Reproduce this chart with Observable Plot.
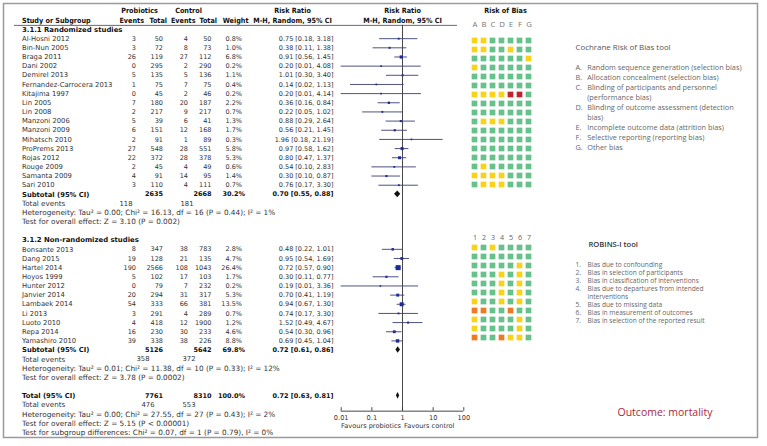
<!DOCTYPE html>
<html><head><meta charset="utf-8">
<script src="https://cdn.jsdelivr.net/npm/d3@7"></script>
<script src="https://cdn.jsdelivr.net/npm/@observablehq/plot@0.6"></script>
<style>
body{margin:0;background:#fff;}
#chart{position:relative;width:767px;height:446px;overflow:hidden;}
#chart svg{position:absolute;left:0;top:0;background:transparent !important;}
</style></head><body><div id="chart"></div>
<script>
// ---------------- DATA ----------------
const randStudy = ["Al-Hosni 2012","Bin-Nun 2005","Braga 2011","Dani 2002","Demirel 2013","Fernandez-Carrocera 2013","Kitajima 1997","Lin 2005","Lin 2008","Manzoni 2006","Manzoni 2009","Mihatsch 2010","ProPrems 2013","Rojas 2012","Rouge 2009","Samanta 2009","Sari 2010"];
const randProbEv  = [3,3,26,0,5,1,0,7,2,5,6,2,27,22,2,4,3];
const randProbTot = [50,72,119,295,135,75,45,180,217,39,151,91,548,372,45,91,110];
const randCtrlEv  = [4,8,27,2,5,7,2,20,9,6,12,1,28,28,4,14,4];
const randCtrlTot = [50,73,112,290,136,75,46,187,217,41,168,89,551,378,49,95,111];
const randWeight  = [0.8,1.0,6.8,0.2,1.1,0.4,0.2,2.2,0.7,1.3,1.7,0.3,5.8,5.3,0.6,1.4,0.7];
const randRR = [0.75,0.38,0.91,0.20,1.01,0.14,0.20,0.36,0.22,0.88,0.56,1.96,0.97,0.80,0.54,0.30,0.76];
const randLo = [0.18,0.11,0.56,0.01,0.30,0.02,0.01,0.16,0.05,0.29,0.21,0.18,0.58,0.47,0.10,0.10,0.17];
const randHi = [3.18,1.38,1.45,4.08,3.40,1.13,4.14,0.84,1.02,2.64,1.45,21.19,1.62,1.37,2.83,0.87,3.30];
// Cochrane risk of bias domains A-G (G = low, Y = unclear, R = high)
const randBias = ["YYGGGGG","YYGGYGG","GGGGGGY","YGGGGGG","GGGGGGG","GGGGGGG","YYYYRRG","GGGGGGG","GGGGGGG","GYYYGGG","GGGGGGG","GGGGGGG","GGGGGGG","GGGGGGG","GYGGGGG","YYYYGGG","GYYYGGG"];

const nonrStudy = ["Bonsante 2013","Dang 2015","Hartel 2014","Hoyos 1999","Hunter 2012","Janvier 2014","Lambaek 2014","Li 2013","Luoto 2010","Repa 2014","Yamashiro 2010"];
const nonrProbEv  = [8,19,190,5,0,20,54,3,4,16,39];
const nonrProbTot = [347,128,2566,102,79,294,333,291,418,230,338];
const nonrCtrlEv  = [38,21,108,17,7,31,66,4,12,30,38];
const nonrCtrlTot = [783,135,1043,103,232,317,381,289,1900,233,226];
const nonrWeight  = [2.8,4.7,26.4,1.7,0.2,5.3,13.5,0.7,1.2,4.6,8.8];
const nonrRR = [0.48,0.95,0.72,0.30,0.19,0.70,0.94,0.74,1.52,0.54,0.69];
const nonrLo = [0.22,0.54,0.57,0.11,0.01,0.41,0.67,0.17,0.49,0.30,0.45];
const nonrHi = [1.01,1.69,0.90,0.77,3.36,1.19,1.30,3.30,4.67,0.96,1.04];
// ROBINS-I domains 1-7 (G = low, Y = moderate, O = serious)
const nonrBias = ["YGYGGGG","GGGGGGG","GGGGGYG","GGGYGYG","GGGYGYG","GGGYGYG","YGGYGYG","OOGGOGG","YGGGGYG","YGGGGYG","OGGOYYG"];

const groupTitles = ["3.1.1 Randomized studies","3.1.2 Non-randomized studies"];
const summaryLabels = ["Subtotal (95% CI)","Subtotal (95% CI)","Total (95% CI)"];
const summaryProbTot = [2635,5126,7761];
const summaryCtrlTot = [2668,5642,8310];
const summaryWeight = [30.2,69.8,100.0];
const summaryRR = [0.70,0.72,0.72];
const summaryLo = [0.55,0.61,0.63];
const summaryHi = [0.88,0.86,0.81];
const totalEventsProb = [118,358,476];
const totalEventsCtrl = [181,372,553];
const heterogeneity = [
  "Heterogeneity: Tau\u00b2 = 0.00; Chi\u00b2 = 16.13, df = 16 (P = 0.44); I\u00b2 = 1%",
  "Heterogeneity: Tau\u00b2 = 0.01; Chi\u00b2 = 11.38, df = 10 (P = 0.33); I\u00b2 = 12%",
  "Heterogeneity: Tau\u00b2 = 0.00; Chi\u00b2 = 27.55, df = 27 (P = 0.43); I\u00b2 = 2%"];
const overallEffect = [
  "Test for overall effect: Z = 3.10 (P = 0.002)",
  "Test for overall effect: Z = 3.78 (P = 0.0002)",
  "Test for overall effect: Z = 5.15 (P < 0.00001)"];
const subgroupTest = "Test for subgroup differences: Chi\u00b2 = 0.07, df = 1 (P = 0.79), I\u00b2 = 0%";

const axisTicks = [0.01,0.1,1,10,100];
const axisTickLabels = ["0.01","0.1","1","10","100"];
const favoursLabels = ["Favours probiotics","Favours control"];

const cochraneDomains = ["A","B","C","D","E","F","G"];
const robinsDomains = ["1","2","3","4","5","6","7"];
const cochraneTitle = "Cochrane Risk of Bias tool";
const cochraneKeys = ["A.","B.","C.","","D.","","E.","F.","G."];
const cochraneItems = ["Random sequence generation (selection bias)","Allocation concealment (selection bias)","Blinding of participants and personnel","(performance bias)","Blinding of outcome assessment (detection","bias)","Incomplete outcome data (attrition bias)","Selective reporting (reporting bias)","Other bias"];
const robinsTitle = "ROBINS-I tool";
const robinsKeys = ["1.","2.","3.","4.","","5.","6.","7."];
const robinsItems = ["Bias due to confounding","Bias in selection of participants","Bias in classification of interventions","Bias due to departures from intended","interventions","Bias due to missing data","Bias in measurement of outcomes","Bias in selection of the reported result"];
const outcomeLabel = "Outcome: mortality";
const biasLevels = ["G","Y","R","O"];

// ---------------- LAYOUT ----------------
const W = 767, H = 446;
const rowScale = {domain: [0, 44], range: [29, 432], axis: null};
const groupRows = [0, 23];
const summaryRows = [18, 35, 40];
const totEvRows = [19, 36, 41];
const hetRows = [20, 37, 42];
const effRows = [21, 38, 43];
const subgroupRow = 44;
const axisRow = 41.67;
const col = {name: 21.5, pe: 135.5, pt: 162.5, ce: 187.5, ct: 211, w: 241.5, rr: 333};
const totEvX = [[132, 193], [149, 195], [154, 195]];

const mk = (name, pe, pt, ce, ct, w, rr, lo, hi, bias, row0) =>
  name.map((s, i) => ({name: s, pe: pe[i], pt: pt[i], ce: ce[i], ct: ct[i], w: w[i], rr: rr[i], lo: lo[i], hi: hi[i], bias: bias[i], row: row0 + i}));
const studies = mk(randStudy, randProbEv, randProbTot, randCtrlEv, randCtrlTot, randWeight, randRR, randLo, randHi, randBias, 1)
  .concat(mk(nonrStudy, nonrProbEv, nonrProbTot, nonrCtrlEv, nonrCtrlTot, nonrWeight, nonrRR, nonrLo, nonrHi, nonrBias, 24));
const summaries = summaryLabels.map((l, i) => ({label: l, pt: summaryProbTot[i], ct: summaryCtrlTot[i], w: summaryWeight[i], rr: summaryRR[i], lo: summaryLo[i], hi: summaryHi[i], row: summaryRows[i]}));
const totEv = totalEventsProb.map((p, i) => ({p, c: totalEventsCtrl[i], row: totEvRows[i], xp: totEvX[i][0], xc: totEvX[i][1]}));
const rrText = d => `${d.rr.toFixed(2)} [${d.lo.toFixed(2)}, ${d.hi.toFixed(2)}]`;

const bodyFont = "DejaVu Sans, Verdana, sans-serif";
const headFont = "'Liberation Sans Narrow', 'DejaVu Sans Condensed', 'Liberation Sans', sans-serif";
const sideFont = "'Open Sans', Lato, sans-serif";
const ink = "#333";
const T = (data, o) => Plot.text(data, {fontFamily: bodyFont, fontSize: 6.5, fill: ink, stroke: null, lineAnchor: "middle", ...o});
const Hd = (data, o) => Plot.text(data, {fontFamily: headFont, fontSize: 7.2, fontWeight: "bold", fill: "#111", lineAnchor: "middle", ...o});

const chart = document.getElementById("chart");

// ---------- table ----------
const table = Plot.plot({
  width: W, height: H, margin: 0,
  x: {type: "linear", domain: [0, W], range: [0, W], axis: null},
  y: rowScale,
  style: {background: "transparent"},
  marks: [
    Plot.frame({stroke: "#9a9a9a", strokeWidth: 1.5, insetLeft: 3, insetTop: 3, insetRight: 10, insetBottom: 9}),
    // headers
    Hd(["Probiotics", "Control"], {x: [139, 188], y: -2}),
    Hd(["Study or Subgroup"], {x: col.name, y: -1, textAnchor: "start"}),
    Hd(["Events", "Total", "Events", "Total", "Weight"], {x: [143.5, 166.5, 195, 216.5, 248], y: -1, textAnchor: "end"}),
    Hd(["Risk Ratio", "Risk Ratio"], {x: [292, 402], y: -2}),
    Hd(["M-H, Random, 95% CI", "M-H, Random, 95% CI"], {x: [292, 402], y: -1}),
    Hd(["Risk of Bias"], {x: 505, y: -2}),
    Plot.ruleY([-0.45], {x1: 14, x2: 457, stroke: "#444", strokeWidth: 0.8}),
    // group titles
    T(groupTitles, {x: col.name, y: (d, i) => groupRows[i], textAnchor: "start", fontWeight: "bold", fill: "#111", fontSize: 6.9}),
    // study rows
    T(studies, {x: col.name, y: "row", text: "name", textAnchor: "start", fontSize: 6.8}),
    T(studies, {x: col.pe, y: "row", text: d => String(d.pe), textAnchor: "end"}),
    T(studies, {x: col.pt, y: "row", text: d => String(d.pt), textAnchor: "end"}),
    T(studies, {x: col.ce, y: "row", text: d => String(d.ce), textAnchor: "end"}),
    T(studies, {x: col.ct, y: "row", text: d => String(d.ct), textAnchor: "end"}),
    T(studies, {x: col.w, y: "row", text: d => d.w.toFixed(1) + "%", textAnchor: "end"}),
    T(studies, {x: col.rr, y: "row", text: rrText, textAnchor: "end"}),
    // summaries
    T(summaries, {x: col.name, y: "row", text: "label", textAnchor: "start", fontWeight: "bold", fill: "#111", fontSize: 6.8}),
    T(summaries, {x: col.pt, y: "row", text: d => String(d.pt), textAnchor: "end", fontWeight: "bold", fill: "#111"}),
    T(summaries, {x: col.ct, y: "row", text: d => String(d.ct), textAnchor: "end", fontWeight: "bold", fill: "#111"}),
    T(summaries, {x: col.w + 3, y: "row", text: d => d.w.toFixed(1) + "%", textAnchor: "end", fontWeight: "bold", fill: "#111"}),
    T(summaries, {x: col.rr, y: "row", text: rrText, textAnchor: "end", fontWeight: "bold", fill: "#111"}),
    // total events & tests
    T(totEv, {x: col.name, y: "row", text: () => "Total events", textAnchor: "start", fontSize: 7.2}),
    T(totEv, {x: "xp", y: "row", text: d => String(d.p), textAnchor: "end", fontSize: 6.8}),
    T(totEv, {x: "xc", y: "row", text: d => String(d.c), textAnchor: "end", fontSize: 6.8}),
    T(heterogeneity, {x: col.name, y: (d, i) => hetRows[i], textAnchor: "start", fontSize: 7.3}),
    T(overallEffect, {x: col.name, y: (d, i) => effRows[i], textAnchor: "start", fontSize: 7.3}),
    T([subgroupTest], {x: col.name, y: subgroupRow, textAnchor: "start", fontSize: 7.3})
  ]
});
chart.appendChild(table);

// ---------- forest plot ----------
const diamonds = summaries.flatMap((d, i) => [
  {id: i, y: d.row - 0.36, x1: d.rr, x2: d.rr},
  {id: i, y: d.row, x1: d.lo, x2: d.hi},
  {id: i, y: d.row + 0.36, x1: d.rr, x2: d.rr}]);
const forest = Plot.plot({
  width: W, height: H, margin: 0,
  x: {type: "log", domain: [0.01, 100], range: [340.7, 463.3], axis: null},
  y: rowScale,
  r: {type: "sqrt", domain: [0, 26.4], range: [0.7, 2.85]},
  style: {background: "transparent"},
  marks: [
    Plot.ruleX([1], {y1: -0.45, y2: axisRow, stroke: "#333", strokeWidth: 0.9}),
    Plot.ruleY(studies, {y: "row", x1: "lo", x2: "hi", stroke: "#3a4070", strokeWidth: 0.9}),
    Plot.dot(studies, {x: "rr", y: "row", r: "w", symbol: "square", fill: "#1c2a9c", stroke: null}),
    Plot.areaX(diamonds, {y: "y", x1: "x1", x2: "x2", z: "id", fill: "#111", curve: "linear"}),
    Plot.ruleY([axisRow], {x1: 0.01, x2: 100, stroke: "#333", strokeWidth: 0.9}),
    Plot.ruleX(axisTicks, {x: d => d, y1: axisRow - 0.38, y2: axisRow, stroke: "#333", strokeWidth: 0.9}),
    T(axisTickLabels, {x: (d, i) => axisTicks[i], y: axisRow + 0.78, fontSize: 6.6}),
    T([favoursLabels[0]], {x: 1, y: axisRow + 1.65, textAnchor: "end", dx: -1.5, fontSize: 6.6}),
    T([favoursLabels[1]], {x: 1, y: axisRow + 1.65, textAnchor: "start", dx: 1.5, fontSize: 6.6})
  ]
});
chart.appendChild(forest);

// ---------- risk of bias grids & legends ----------
const biasCells = studies.flatMap((s, k) => s.bias.split("").map((v, c) => ({col: c, r: k < 17 ? k : k + 6, v})));
const side = (text, o) => Plot.text([text], {frameAnchor: "top-left", textAnchor: "start", lineAnchor: "middle", fontFamily: sideFont, fill: "#666", ...o});
const grid = Plot.plot({
  width: W, height: H, margin: 0,
  x: {type: "band", domain: d3.range(7), range: [468.6, 533.9], padding: 0, axis: null},
  y: {type: "band", domain: d3.range(34), range: [31.05, 347.25], padding: 0, axis: null},
  color: {domain: biasLevels, range: ["#66c28a", "#f9d21a", "#c0242a", "#ef7a26"]},
  style: {background: "transparent"},
  marks: [
    Plot.cell(biasCells, {x: "col", y: "r", fill: "v", inset: 1.65}),
    Plot.text(cochraneDomains, {x: (d, i) => i, frameAnchor: "top", lineAnchor: "middle", dy: 24, fontFamily: sideFont, fontSize: 7.8, fill: "#777"}),
    Plot.text(robinsDomains, {x: (d, i) => i, frameAnchor: "top", lineAnchor: "middle", dy: 237.3, fontFamily: sideFont, fontSize: 7.2, fill: "#666"}),
    side(cochraneTitle, {dx: 575, dy: 46.7, fontSize: 7.9, fill: "#555"}),
    side(cochraneKeys.join("\n"), {dx: 575, dy: 105.9, fontSize: 7.3, lineHeight: 10 / 7.3}),
    side(cochraneItems.join("\n"), {dx: 586.7, dy: 105.9, fontSize: 7.3, lineHeight: 10 / 7.3}),
    side(robinsTitle, {dx: 588, dy: 244, fontSize: 7.6, fill: "#333", fontWeight: "600"}),
    side(robinsKeys.join("\n"), {dx: 575, dy: 292, fontSize: 6.6, lineHeight: 8 / 6.6}),
    side(robinsItems.join("\n"), {dx: 587, dy: 292, fontSize: 6.6, lineHeight: 8 / 6.6}),
    side(outcomeLabel, {dx: 617, dy: 411.7, fontSize: 10.5, fill: "#a8283e"})
  ]
});
chart.appendChild(grid);
</script></body></html>
